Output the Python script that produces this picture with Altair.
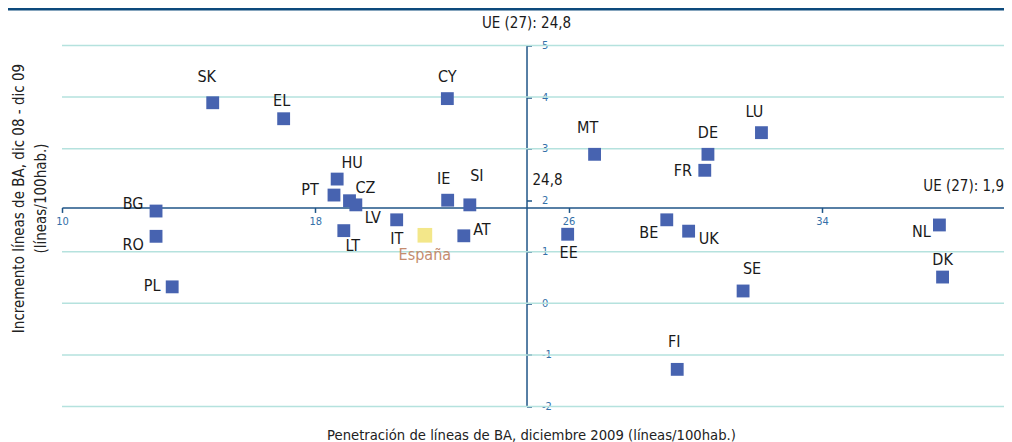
import altair as alt
import pandas as pd

# ---------------- data ----------------
countries = ["SK", "EL", "CY", "MT", "LU", "DE", "FR", "HU", "PT", "CZ", "LV", "LT", "IT",
             "IE", "SI", "AT", "España", "BG", "RO", "PL", "EE", "BE", "UK", "NL", "DK", "SE", "FI"]
penetration = [14.76, 17.00, 22.17, 26.82, 32.09, 30.40, 30.30, 18.69, 18.59, 19.08, 19.28, 18.90, 20.57,
               22.18, 22.88, 22.69, 21.46, 12.97, 12.97, 13.48, 25.97, 29.10, 29.79, 37.71, 37.81, 31.51, 29.43]
increment = [3.89, 3.58, 3.97, 2.89, 3.31, 2.89, 2.58, 2.41, 2.10, 1.99, 1.91, 1.41, 1.62,
             2.00, 1.91, 1.31, 1.32, 1.79, 1.30, 0.32, 1.34, 1.62, 1.40, 1.52, 0.51, 0.24, -1.28]

x_ticks = [10, 18, 26, 34]
y_ticks = [-2, -1, 0, 1, 2, 3, 4, 5]
grid_values = [5, 4, 3, 1, 0, -1, -2]
ue_pen = 24.67          # crossing of the vertical axis (labelled 24,8)
ue_inc = 1.86           # crossing of the horizontal axis (labelled 1,9)
ue_pen_text = "24,8"
ue_top_text = "UE (27): 24,8"
ue_right_text = "UE (27): 1,9"

x_title = "Penetración de líneas de BA, diciembre 2009 (líneas/100hab.)"
y_title = ["Incremento líneas de BA, dic 08 - dic 09", "(líneas/100hab.)"]

# ---------------- layout / style ----------------
W, H = 942, 361
XDOM, YDOM = [10, 39.75], [-2, 5]
PXX = W / (XDOM[1] - XDOM[0])
PXY = H / (YDOM[1] - YDOM[0])
FONT = "DejaVu Sans Condensed, DejaVu Sans, sans-serif"
BLUE_PT = "#4763b0"
YELLOW_PT = "#f3e78a"
AXIS_BLUE = "#1f5587"
LABEL_BLUE = "#3470a8"
GRID = "#b5e2de"
TEXT = "#1a1a1a"
ES_TEXT = "#c48c6e"

# label offsets in pixels (label centre relative to the marker centre)
label_offsets = {
    "SK": (-6, -26), "EL": (-2, -18), "CY": (0, -22), "MT": (-7, -26), "LU": (-7, -21),
    "DE": (0, -21), "FR": (-22, 1), "HU": (15, -16), "PT": (-24, -5), "CZ": (16, -13),
    "LV": (17, 13), "LT": (9, 15), "IT": (0, 19), "IE": (-4, -21), "SI": (7, -29),
    "AT": (18, -6), "España": (0, 20), "BG": (-23, -7), "RO": (-23, 9), "PL": (-20, -1),
    "EE": (1, 19), "BE": (-18, 13), "UK": (20, 8), "NL": (-18, 7), "DK": (0, -17),
    "SE": (9, -22), "FI": (-3, -27),
}

df = pd.DataFrame({"country": countries, "pen": penetration, "inc": increment})
df["lx"] = [p + label_offsets[c][0] / PXX for c, p in zip(countries, penetration)]
df["ly"] = [v - label_offsets[c][1] / PXY for c, v in zip(countries, increment)]

xs = alt.Scale(domain=XDOM, nice=False, zero=False)
ys = alt.Scale(domain=YDOM, nice=False, zero=False)

x_off = -(ue_inc - YDOM[0]) * PXY
y_off = -(XDOM[1] - ue_pen) * PXX
PAD_L, PAD_T = 54, 37.5

x_axis = alt.Axis(
    values=x_ticks, orient="bottom", offset=x_off, grid=False,
    domainColor=AXIS_BLUE, domainWidth=1.5, tickColor=AXIS_BLUE, tickWidth=1.5, tickSize=5,
    labelColor=LABEL_BLUE, labelFont=FONT, labelFontSize=11, labelPadding=3,
    labelFlush=False, labelOverlap=False, labelExpr="toString(datum.value)",
    title=x_title, titleFont=FONT, titleFontSize=14.7, titleFontWeight="normal", titleColor="#222222",
    titleX=(531 - 8 - PAD_L), titleY=(439 - 8 - PAD_T) - (H + x_off),
    titleAlign="center", titleBaseline="alphabetic",
)
y_axis = alt.Axis(
    values=y_ticks, orient="right", offset=y_off, grid=False,
    domainColor=AXIS_BLUE, domainWidth=1.5, tickColor=AXIS_BLUE, tickWidth=1.5, tickSize=5,
    labelColor=LABEL_BLUE, labelFont=FONT, labelFontSize=11, labelPadding=10,
    labelFlush=False, labelOverlap=False, labelAlign="left", labelBaseline="middle",
    labelExpr="toString(datum.value)",
    title=y_title, titleFont=FONT, titleFontSize=15, titleFontWeight="normal", titleColor="#222222",
    titleAngle=270, titleAlign="center", titleBaseline="middle", titleLineHeight=22,
    titleX=(18 - 8 - PAD_L) - (W + y_off), titleY=(198 - 8 - PAD_T),
)

X = lambda f: alt.X(f, type="quantitative", scale=xs, axis=x_axis)
Y = lambda f: alt.Y(f, type="quantitative", scale=ys, axis=y_axis)

is_es = alt.datum.country == "España"
base = alt.Chart(df)

grid = alt.Chart(pd.DataFrame({"g": grid_values})).mark_rule(
    color=GRID, strokeWidth=1.5
).encode(y=Y("g"))

band = alt.Chart(pd.DataFrame({"g": [0]})).mark_rule(color="#0d4a7c", strokeWidth=2.5).encode(
    x=alt.value(-PAD_L), x2=alt.value(W + 10), y=alt.value(-PAD_T + 1.2)
)

points = base.mark_square(opacity=1).encode(
    x=X("pen"), y=Y("inc"),
    color=alt.condition(is_es, alt.value(YELLOW_PT), alt.value(BLUE_PT)),
    size=alt.condition(is_es, alt.value(215), alt.value(165)),
)

labels = base.mark_text(font=FONT, fontSize=16, baseline="middle", align="center").encode(
    x=X("lx"), y=Y("ly"), text="country:N",
    color=alt.condition(is_es, alt.value(ES_TEXT), alt.value(TEXT)),
)

ann = pd.DataFrame({"x": [ue_pen], "y": [ue_inc], "top": [ue_top_text], "mid": [ue_pen_text]})
ann_top = alt.Chart(ann).mark_text(font=FONT, fontSize=15, color=TEXT, baseline="middle",
                                   align="center", dy=-23).encode(
    x=X("x"), y=alt.Y("ymax:Q", scale=ys, axis=y_axis), text="top:N"
).transform_calculate(ymax=str(YDOM[1]))
ann_mid = alt.Chart(ann).mark_text(font=FONT, fontSize=15, color=TEXT, baseline="middle",
                                   align="center", dx=21, dy=-27).encode(
    x=X("x"), y=Y("y"), text="mid:N"
)
ann_right = alt.Chart(pd.DataFrame({"x": [XDOM[1]], "y": [ue_inc], "t": [ue_right_text]})).mark_text(
    font=FONT, fontSize=15, color=TEXT, baseline="middle", align="right", dx=0, dy=-21
).encode(x=X("x"), y=Y("y"), text="t:N")

chart = alt.layer(grid, band, points, labels, ann_top, ann_mid, ann_right).properties(
    width=W, height=H,
    autosize=alt.AutoSizeParams(type="none"),
    padding={"left": PAD_L, "top": PAD_T, "right": 0, "bottom": 434 - PAD_T - H},
    background="white",
).configure_view(stroke=None)

chart.save("out.html", embed_options={"renderer": "svg", "actions": False})
